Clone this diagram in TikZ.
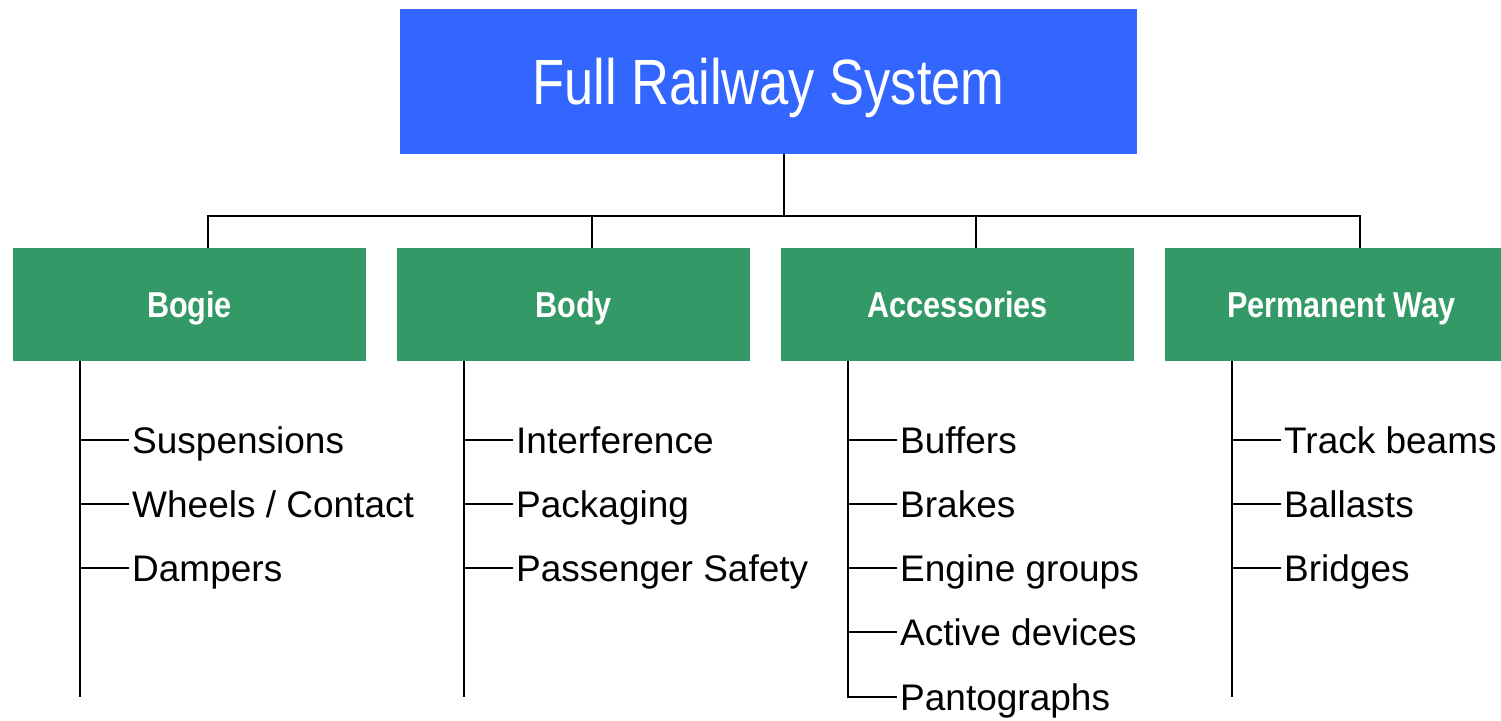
\documentclass[tikz,border=0pt]{standalone}
\usepackage{fontspec}
\setmainfont{Liberation Sans}
\newfontfamily\titlefont[FakeStretch=0.82]{Liberation Sans}
\newfontfamily\groupfont[FakeStretch=0.85]{Liberation Sans}
\definecolor{sysblue}{HTML}{3366FF}
\definecolor{groupgreen}{HTML}{339966}
\begin{document}
\begin{tikzpicture}[x=1pt, y=-1pt,
                    top/.style = {fill=sysblue, text=white, inner sep=0pt,
                                  minimum width=737pt, minimum height=145pt,
                                  text height=46pt, text depth=0pt,
                                  font=\titlefont\fontsize{64}{72}\selectfont},
                    group/.style = {fill=groupgreen, text=white, inner sep=0pt,
                                    minimum width=353pt, minimum height=113pt,
                                    text height=26pt, text depth=0pt,
                                    font=\groupfont\bfseries\fontsize{36}{42}\selectfont},
                    item/.style = {anchor=west, inner xsep=3pt, inner ysep=0pt,
                                   text height=27pt, text depth=0pt,
                                   font=\fontsize{37}{44}\selectfont},
                    link/.style = {line width=2pt}]
                    \clip (0,0) rectangle (1501,720);

                    \node [top] (sys) at (768.5,81) {Full Railway System};

                    \node [group] (bogie) at (189.5,304.5) {Bogie};
                    \node [group] (body) at (573.5,304.5) {Body};
                    \node [group] (acc) at (957.5,304.5) {Accessories};
                    \node [group] (pway) at (1341.5,304.5) {Permanent Way};

                    % bus from the title to the groups
                    \coordinate (bus) at (784,216);
                    \draw[link] ([xshift=15.5]sys.south) -- (bus);
                    \draw[link] (bus) -| ([xshift=18.5]bogie.north);
                    \draw[link] (bus) -| ([xshift=18.5]body.north);
                    \draw[link] (bus) -| ([xshift=18.5]acc.north);
                    \draw[link] (bus) -| ([xshift=18.5]pway.north);

                    % bogie
                    \coordinate (bogieend) at (80,697);
                    \node [item] (susp) at (129,440) {Suspensions};
                    \node [item] (wheels) at (129,504) {Wheels / Contact};
                    \node [item] (dampers) at (129,568) {Dampers};
                    \draw[link] (bogie.south -| bogieend) -- (bogieend);
                    \draw[link] (susp.west -| bogieend) -- (susp.west);
                    \draw[link] (wheels.west -| bogieend) -- (wheels.west);
                    \draw[link] (dampers.west -| bogieend) -- (dampers.west);

                    % body
                    \coordinate (bodyend) at (464,697);
                    \node [item] (interf) at (513,440) {Interference};
                    \node [item] (pack) at (513,504) {Packaging};
                    \node [item] (safety) at (513,568) {Passenger Safety};
                    \draw[link] (body.south -| bodyend) -- (bodyend);
                    \draw[link] (interf.west -| bodyend) -- (interf.west);
                    \draw[link] (pack.west -| bodyend) -- (pack.west);
                    \draw[link] (safety.west -| bodyend) -- (safety.west);

                    % accessories
                    \coordinate (accend) at (848,697);
                    \node [item] (buffers) at (897,440) {Buffers};
                    \node [item] (brakes) at (897,504) {Brakes};
                    \node [item] (engines) at (897,568) {Engine groups};
                    \node [item] (active) at (897,632) {Active devices};
                    \node [item] (panto) at (897,697) {Pantographs};
                    \draw[link] (acc.south -| accend) |- (panto.west);
                    \draw[link] (buffers.west -| accend) -- (buffers.west);
                    \draw[link] (brakes.west -| accend) -- (brakes.west);
                    \draw[link] (engines.west -| accend) -- (engines.west);
                    \draw[link] (active.west -| accend) -- (active.west);

                    % permanent way
                    \coordinate (pwayend) at (1232,697);
                    \node [item] (beams) at (1281,440) {Track beams};
                    \node [item] (ballast) at (1281,504) {Ballasts};
                    \node [item] (bridges) at (1281,568) {Bridges};
                    \draw[link] (pway.south -| pwayend) -- (pwayend);
                    \draw[link] (beams.west -| pwayend) -- (beams.west);
                    \draw[link] (ballast.west -| pwayend) -- (ballast.west);
                    \draw[link] (bridges.west -| pwayend) -- (bridges.west);
                \end{tikzpicture}
\end{document}
